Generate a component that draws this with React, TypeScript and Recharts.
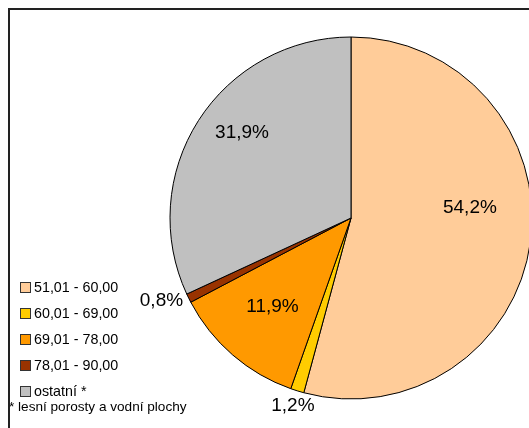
import { PieChart, Pie, Cell, Legend } from "recharts";

const categories = ["51,01 - 60,00", "60,01 - 69,00", "69,01 - 78,00", "78,01 - 90,00", "ostatní *"];
const shares = [54.2, 1.2, 11.9, 0.8, 31.9];
const footnote = "* lesní porosty a vodní plochy";

const colors = ["#FFCC99", "#FFCC00", "#FF9900", "#993300", "#C0C0C0"];
// label placement: [radius factor, angle shift in degrees]
const labelPlace: Array<[number, number]> = [
  [0.66, 13],
  [1.08, 0],
  [0.65, -1],
  [1.14, -3],
  [0.77, -6],
];

const data = categories.map((name, i) => ({ name, value: shares[i] }));
const RAD = Math.PI / 180;
const FONT = "'Liberation Sans', Arial, sans-serif";

function renderLabel(props: any) {
  const { cx, cy, midAngle, outerRadius, index, value } = props;
  const [f, shift] = labelPlace[index];
  const a = (midAngle + shift) * RAD;
  const x = cx + outerRadius * f * Math.cos(a);
  const y = cy - outerRadius * f * Math.sin(a);
  return (
    <text x={x} y={y} textAnchor="middle" dominantBaseline="central" fontSize={19} fontFamily={FONT} fill="#000">
      {value.toFixed(1).replace(".", ",") + "%"}
    </text>
  );
}

function LegendBox({ payload }: any) {
  return (
    <div style={{ fontFamily: FONT, color: "#000" }}>
      {(payload || []).map((p: any, i: number) => (
        <div key={i} style={{ display: "flex", alignItems: "center", height: 26, fontSize: 14.3 }}>
          <span
            style={{
              display: "inline-block",
              width: 9,
              height: 9,
              background: colors[i],
              border: "1px solid #333",
              marginRight: 3,
            }}
          />
          {categories[i]}
        </div>
      ))}
      <div style={{ fontSize: 13.6, marginLeft: -11, marginTop: -5 }}>{footnote}</div>
    </div>
  );
}

export default function App() {
  return (
    <div
      style={{
        position: "fixed",
        left: 8,
        top: 8,
        width: 530,
        height: 430,
        borderTop: "2px solid #222",
        borderLeft: "2px solid #222",
        overflow: "hidden",
      }}
    >
      <PieChart width={530} height={430}>
        <Pie
          data={data}
          dataKey="value"
          nameKey="name"
          cx={336}
          cy={203}
          outerRadius={181}
          startAngle={90}
          endAngle={-270}
          stroke="#000"
          strokeWidth={1}
          label={renderLabel}
          labelLine={false}
          isAnimationActive={false}
        >
          {data.map((d, i) => (
            <Cell key={d.name} fill={colors[i]} />
          ))}
        </Pie>
        <Legend
          layout="vertical"
          content={<LegendBox />}
          wrapperStyle={{ position: "absolute", left: 10, top: 264, width: 220 }}
        />
      </PieChart>
    </div>
  );
}
